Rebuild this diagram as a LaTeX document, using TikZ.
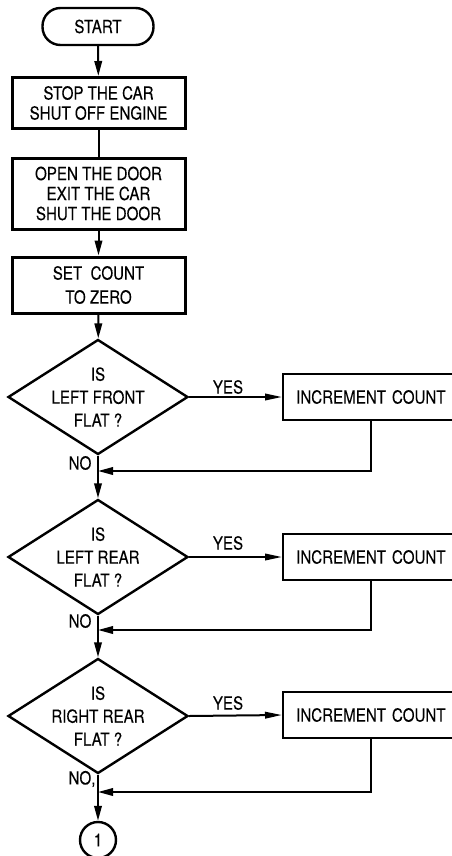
\documentclass[tikz,border=0pt]{standalone}
\usepackage{fontspec}
\setmainfont[FakeStretch=0.84,FakeBold=0.2]{TeX Gyre Heros}
\usetikzlibrary{shapes.geometric,arrows.meta}
\begin{document}
\begin{tikzpicture}[x=1pt,y=-1pt,
  every node/.style={font=\fontsize{18}{20}\selectfont, align=center, inner sep=0pt},
  term/.style={draw, line width=2.4pt, rounded corners=18pt, minimum width=111pt, minimum height=37pt},
  procbox/.style={draw, line width=3pt, minimum width=173pt},
  dec/.style={draw, diamond, line width=2.4pt, minimum width=180pt, minimum height=115pt},
  dtext/.style={font=\fontsize{18}{23}\selectfont},
  inc/.style={draw, line width=2.4pt, anchor=west, text width=180pt, align=left, inner xsep=13pt, minimum height=46pt},
  conn/.style={line width=2pt},
  arr/.style={conn, -{Triangle[length=15pt,width=7.5pt]}},
  harr/.style={conn, -{Triangle[length=17pt,width=6.5pt]}},
  lbl/.style={font=\fontsize{18}{20}\selectfont},
  onecirc/.style={draw, circle, line width=2.4pt, minimum size=36pt}
]
\useasboundingbox (0,0) rectangle (451,856);

\node[term] (start) at (98,26.5) {START};
\node[procbox, minimum height=51pt] (b1) at (98.5,103) {STOP THE CAR\\SHUT OFF ENGINE};
\node[procbox, minimum height=71pt] (b2) at (98.5,193.5) {OPEN THE DOOR\\EXIT THE CAR\\SHUT THE DOOR};
\node[procbox, minimum height=56pt, font=\fontsize{18}{24}\selectfont] (b3) at (98.5,285) {SET\ \ COUNT\\TO ZERO};

\node[dec] (d1) at (98,397) {};
\node[dtext] (t1) at (d1.center) {IS\\LEFT FRONT\\FLAT ?};
\node[inc] (i1) at (282,397) {INCREMENT COUNT};
\node[lbl] (y1) at (228,387) {YES};
\node[lbl] (n1) at (80,463) {NO};
\coordinate (r1) at (371,471);

\node[dec] (d2) at (98,557) {};
\node[dtext] (t2) at (d2.center) {IS\\LEFT REAR\\FLAT ?};
\node[inc] (i2) at (282,557) {INCREMENT COUNT};
\node[lbl] (y2) at (228,543) {YES};
\node[lbl] (n2) at (80,621) {NO};
\coordinate (r2) at (371,630);

\node[dec] (d3) at (98,716) {};
\node[dtext] (t3) at (d3.center) {IS\\RIGHT REAR\\FLAT ?};
\node[inc] (i3) at (282,715) {INCREMENT COUNT};
\node[lbl] (y3) at (228,703) {YES};
\node[lbl] (n3) at (82,779) {NO,};
\coordinate (r3) at (371,792);

\node[onecirc] (c1) at (98,840) {1};

\draw[arr] (start) -- (b1);
\draw[conn] (b1) -- (b2);
\draw[arr] (b2) -- (b3);
\draw[arr] (b3) -- (d1);

\draw[harr] (d1.east) -- (i1.west);
\draw[arr] (i1.south -| r1) -- (r1) -- (r1 -| d1.south);
\draw[arr] (d1.south) -- (d2.north);

\draw[harr] (d2.east) -- (i2.west);
\draw[arr] (i2.south -| r2) -- (r2) -- (r2 -| d2.south);
\draw[arr] (d2.south) -- (d3.north);

\draw[harr] (d3.east) -- (i3.west);
\draw[arr] (i3.south -| r3) -- (r3) -- (r3 -| d3.south);
\draw[arr] (d3.south) -- (c1.north);
\end{tikzpicture}
\end{document}
